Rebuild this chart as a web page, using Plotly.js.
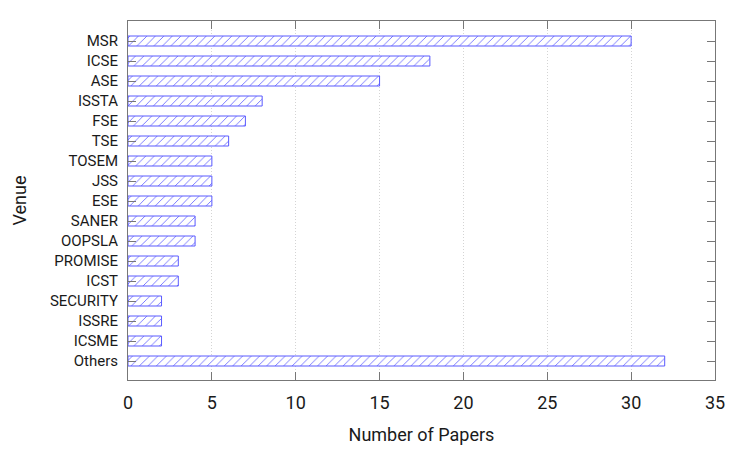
<!DOCTYPE html>
<html>
<head>
<meta charset="utf-8">
<script src="https://cdn.plot.ly/plotly-3.0.1.min.js"></script>
<style>
  html, body { margin: 0; padding: 0; background: #fff; }
  #chart { width: 747px; height: 449px; }
</style>
</head>
<body>
<div id="chart"></div>
<script>
// venues, top to bottom
const venues = ["MSR", "ICSE", "ASE", "ISSTA", "FSE", "TSE", "TOSEM", "JSS", "ESE",
                "SANER", "OOPSLA", "PROMISE", "ICST", "SECURITY", "ISSRE", "ICSME", "Others"];
const papers = [30, 18, 15, 8, 7, 6, 5, 5, 5, 4, 4, 3, 3, 2, 2, 2, 32];
const xTicks = [0, 5, 10, 15, 20, 25, 30, 35];

const frame = "#777";

const data = [{
    type: "bar",
    orientation: "h",
    y: venues,
    x: papers,
    width: 0.5,
    marker: {
        color: "white",
        line: { color: "rgb(90,90,255)", width: 1 },
        pattern: { shape: "/", fgcolor: "rgb(110,110,255)", bgcolor: "white", size: 6, solidity: 0.15 }
    },
    hoverinfo: "x+y"
}];

const layout = {
    width: 747,
    height: 449,
    margin: { l: 128, r: 32, t: 21, b: 69 },
    paper_bgcolor: "white",
    plot_bgcolor: "white",
    showlegend: false,
    font: { family: "Roboto, sans-serif", color: "#1a1a1a" },
    xaxis: {
        range: [0, 35],
        tickvals: xTicks,
        ticktext: xTicks.map(String),
        showgrid: true,
        gridcolor: "#d4d4d4",
        griddash: "1px,2px",
        gridwidth: 1,
        zeroline: false,
        showline: true,
        linecolor: frame,
        linewidth: 1,
        mirror: "ticks",
        ticks: "inside",
        ticklen: 8,
        tickcolor: frame,
        tickfont: { size: 18 },
        ticklabelstandoff: 6,
        title: { text: "Number of Papers", font: { size: 18 }, standoff: 16 }
    },
    yaxis: {
        type: "category",
        categoryorder: "array",
        categoryarray: venues,
        range: [16.95, -1],
        showgrid: false,
        zeroline: false,
        showline: true,
        linecolor: frame,
        linewidth: 1,
        mirror: "ticks",
        ticks: "inside",
        ticklen: 8,
        tickcolor: frame,
        tickfont: { size: 15 },
        ticklabelstandoff: 6,
        title: { text: "Venue", font: { size: 18 }, standoff: 18 }
    }
};

Plotly.newPlot("chart", data, layout, { displayModeBar: false });
</script>
</body>
</html>
